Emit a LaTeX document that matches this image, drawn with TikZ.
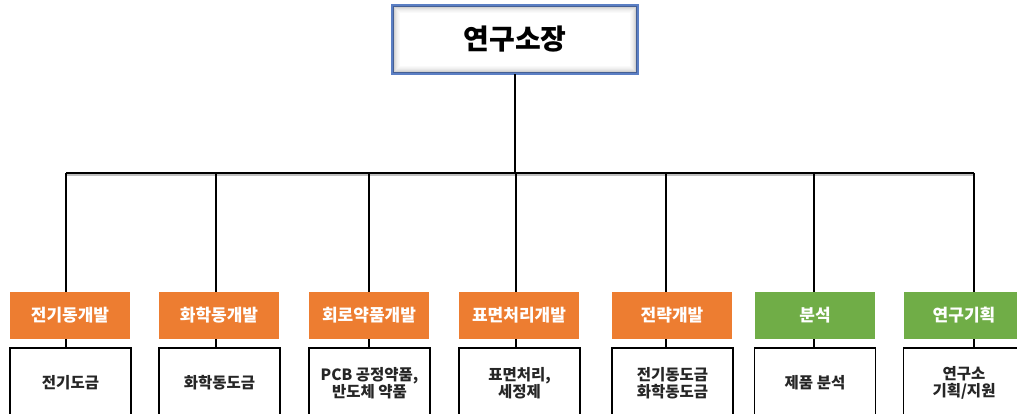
\documentclass[tikz,border=0pt]{standalone}
\usepackage{fontspec}
\setmainfont{Noto Sans CJK KR}
\usetikzlibrary{positioning}
\definecolor{borange}{HTML}{ED7D31}
\definecolor{bgreen}{HTML}{70AD47}
\definecolor{bblue}{HTML}{5B7FC4}
\begin{document}
\begin{tikzpicture}[x=1pt,y=-1pt,
  headbox/.style={draw=bblue,line width=2.2pt,fill=white,minimum width=244pt,minimum height=67pt,inner sep=0pt},
  deptbox/.style={minimum width=120pt,minimum height=47pt,inner sep=0pt,text=white,font=\fontsize{17}{20}\selectfont\bfseries},
  orangebox/.style={deptbox,fill=borange},
  greenbox/.style={deptbox,fill=bgreen},
  taskbox/.style={draw=black,line width=1.4pt,fill=white,minimum width=121pt,minimum height=70pt,inner sep=0pt,align=center,font=\fontsize{15.5}{17.5}\selectfont\bfseries,text=black!85},
  conn/.style={line width=1.6pt,black}
]
\useasboundingbox (0,0) rectangle (1017,414);
\fill[white] (0,0) rectangle (1017,414);

% top box
\node[headbox] (top) at (515,39.5) {};
\foreach \i/\o in {1/0.30,2/0.24,3/0.18,4/0.13,5/0.09,6/0.06,7/0.04,8/0.02}{
  \draw[black,opacity=\o,line width=1pt] ([xshift=\i pt,yshift=-\i pt]top.north west) rectangle ([xshift=-\i pt,yshift=\i pt]top.south east);
}
\draw[bblue,line width=2.2pt] (top.north west) rectangle (top.south east);
\node[font=\fontsize{28}{32}\selectfont\bfseries] (toptext) at (top.center) {연구소장};

% department boxes
\node[orangebox] (o1) at (70,315.5) {전기동개발};
\node[orangebox] (o2) at (219,315.5) {화학동개발};
\node[orangebox] (o3) at (369,315.5) {회로약품개발};
\node[orangebox] (o4) at (519,315.5) {표면처리개발};
\node[orangebox] (o5) at (672,315.5) {전략개발};
\node[greenbox] (o6) at (815,315.5) {분석};
\node[greenbox] (o7) at (964,315.5) {연구기획};

% task boxes
\node[taskbox] (w1) at (70.5,383) {전기도금};
\node[taskbox] (w2) at (219.5,383) {화학동도금};
\node[taskbox] (w3) at (369.5,383) {PCB 공정약품,\\반도체 약품};
\node[taskbox] (w4) at (519.5,383) {표면처리,\\세정제};
\node[taskbox] (w5) at (672.5,383) {전기동도금\\화학동도금};
\node[taskbox] (w6) at (815,383) {제품 분석};
\node[taskbox] (w7) at (964,383) {연구소\\기획/지원};

% bus coordinates
\coordinate (b1) at (66,173);
\coordinate (b2) at (216,173);
\coordinate (b3) at (369,173);
\coordinate (b4) at (516,173);
\coordinate (b5) at (666,173);
\coordinate (b6) at (814,173);
\coordinate (b7) at (974,173);
\coordinate (bt) at (515,173);

\draw[black!25,line width=1.2pt] ([yshift=-2pt]b1) -- ([yshift=-2pt]b7);
\draw[conn] (top.south -| bt) -- (bt);
\draw[conn] (b1) -- (b7);
\foreach \k in {1,...,7}{
  \draw[conn] (b\k) -- (b\k |- o\k.north);
  \draw[conn] (o\k.south -| b\k) -- (b\k |- w\k.north);
}
\end{tikzpicture}
\end{document}
